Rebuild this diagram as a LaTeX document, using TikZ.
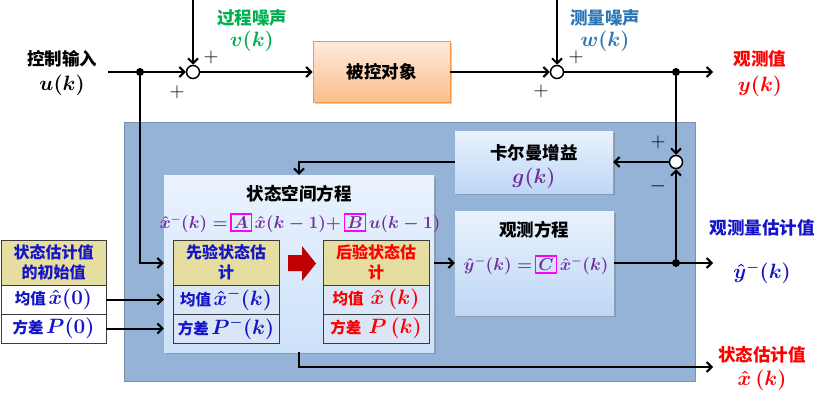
\documentclass[tikz,border=0pt]{standalone}
\usepackage{fontspec}
\setmainfont{Noto Sans CJK SC}
\usepackage{amsmath,bm}
\usetikzlibrary{arrows.meta,shadows}
\definecolor{cgreen}{RGB}{0,176,80}
\definecolor{cblue}{RGB}{46,117,182}
\definecolor{cred}{RGB}{255,0,0}
\definecolor{cpurple}{RGB}{112,48,160}
\definecolor{cdblue}{RGB}{20,20,200}
\definecolor{cmag}{RGB}{255,0,255}
\definecolor{ctan}{RGB}{230,221,160}
\definecolor{crow}{RGB}{218,230,247}
\definecolor{cbig}{RGB}{149,179,215}
\definecolor{cbigb}{RGB}{125,145,175}
\definecolor{cdred}{RGB}{192,0,0}
\definecolor{corange}{RGB}{247,150,70}
\newcommand{\mbx}[1]{{\setlength\fboxsep{2pt}\setlength\fboxrule{1.3pt}\color{cmag}\fbox{\color{cpurple}$#1$}}}
\begin{document}
\begin{tikzpicture}[x=1pt,y=-1pt,
  >={Straight Barb[length=5pt,width=10pt]},
  conn/.style={line width=2pt},
  lbl/.style={font=\fontsize{17.5}{21}\selectfont\bfseries, align=center, inner sep=0pt},
  mth/.style={font=\fontsize{21}{24}\selectfont\boldmath, inner sep=0pt},
  sumj/.style={circle, draw, line width=1.5pt, fill=white, minimum size=13pt, inner sep=0pt},
  dotj/.style={circle, fill=black, minimum size=8pt, inner sep=0pt},
  bluebox/.style={draw=none, top color={rgb,255:red,233;green,242;blue,252}, bottom color={rgb,255:red,190;green,215;blue,246}, drop shadow={shadow xshift=1.5pt, shadow yshift=-1.5pt, opacity=0.35, fill=black!60}},
  cell/.style={draw={rgb,255:red,60;green,60;blue,60}, line width=0.9pt, minimum width=106pt, inner sep=0pt, align=center},
  hdr/.style={cell, fill=ctan, minimum height=45pt, font=\fontsize{16}{20}\selectfont\bfseries},
  row/.style={cell, fill=crow, minimum height=29pt, font=\fontsize{15.5}{18}\selectfont\bfseries},
  wrow/.style={cell, fill=white, minimum height=29pt, font=\fontsize{15.5}{18}\selectfont\bfseries}
]
\useasboundingbox (0,0) rectangle (826,402);

% big blue area
\node[draw=cbigb, line width=1pt, fill=cbig, minimum width=571pt, minimum height=259pt, inner sep=0pt] (big) at (409.5,251.5) {};

% plant
\node[draw=corange, line width=0.9pt, top color={rgb,255:red,253;green,234;blue,222}, bottom color={rgb,255:red,250;green,190;blue,140}, minimum width=137pt, minimum height=61pt, inner sep=0pt, font=\fontsize{17.5}{21}\selectfont\bfseries, drop shadow={shadow xshift=1.5pt, shadow yshift=-1.5pt, opacity=0.3, fill=black!60}] (plant) at (381.5,72) {被控对象};

% Kalman gain box
\node[bluebox, minimum width=158pt, minimum height=62pt, inner sep=0pt] (kal) at (534,162) {};
\node[lbl] (kalt) at (534,153) {卡尔曼增益};
\node[mth, text=cpurple] (kalg) at (534,178) {$g(k)$};

% observation box
\node[bluebox, minimum width=159pt, minimum height=104pt, inner sep=0pt] (obs) at (534.5,263) {};
\node[lbl] (obst) at (534,230) {观测方程};
\node[font=\fontsize{17}{20}\selectfont\boldmath, text=cpurple, inner sep=0pt] (obse) at (536,265) {$\hat{y}^{-}(k)=$\,\mbx{C}\,$\hat{x}^{-}(k)$};

% state space box
\node[bluebox, top color={rgb,255:red,234;green,243;blue,253}, bottom color={rgb,255:red,205;green,225;blue,249}, minimum width=270pt, minimum height=177pt, inner sep=0pt] (state) at (299,263.5) {};
\node[lbl] (statet) at (299,194) {状态空间方程};
\node[font=\fontsize{16}{20}\selectfont\boldmath, text=cpurple, inner sep=0pt] (statee) at (300,223) {$\hat{x}^{-}(k)=$\,\mbx{A}\,$\hat{x}(k-1)+$\,\mbx{B}\,$u(k-1)$};

% prior table
\node[hdr, text=cdblue] (ph) at (226,262.5) {先验状态估\\计};
\node[row, text=cdblue] (p1) at (226,299.5) {均值\,{\fontsize{20}{22}\selectfont\boldmath$\hat{x}^{-}(k)$}};
\node[row, text=cdblue] (p2) at (226,328.5) {方差\,{\fontsize{20}{22}\selectfont\boldmath$P^{-}(k)$}};

% posterior table
\node[hdr, text=cred] (qh) at (376,262.5) {后验状态估\\计};
\node[row, text=cred] (q1) at (376,299.5) {均值\ \ {\fontsize{20}{22}\selectfont\boldmath$\hat{x}\,(k)$}};
\node[row, text=cred] (q2) at (376,328.5) {方差\ \ {\fontsize{20}{22}\selectfont\boldmath$P\,(k)$}};

% initial table
\node[hdr, text=cdblue, minimum width=105pt] (ih) at (53.5,262.5) {状态估计值\\的初始值};
\node[wrow, text=cdblue, minimum width=105pt] (i1) at (53.5,299.5) {均值\,{\fontsize{20}{22}\selectfont\boldmath$\hat{x}(0)$}};
\node[wrow, text=cdblue, minimum width=105pt] (i2) at (53.5,328.5) {方差\,{\fontsize{20}{22}\selectfont\boldmath$P(0)$}};

% red block arrow
\fill[cdred] (288,255) -- (302,255) -- (302,246) -- (316,263.5) -- (302,281) -- (302,271) -- (288,271) -- cycle;

% junctions
\node[sumj] (sum1) at (193,72) {};
\node[sumj] (sum2) at (557,72) {};
\node[sumj] (sum3) at (676,162) {};
\node[dotj] (dot1) at (140,72) {};
\node[dotj] (dot2) at (676,72) {};
\node[dotj] (dot3) at (676,263) {};
\coordinate (in) at (108,72);
\coordinate (out) at (713,72);
\coordinate (n1) at (193,0);
\coordinate (n2) at (557,0);
\coordinate (yout) at (713,263);
\coordinate (xout) at (713,367);

% connectors
\draw[conn,->] (in) -- (sum1);
\draw[conn,->] (n1) -- (sum1);
\draw[conn,->] (sum1) -- (plant);
\draw[conn,->] (plant) -- (sum2);
\draw[conn,->] (n2) -- (sum2);
\draw[conn,->] (sum2) -- (out);
\draw[conn,->] (dot2) -- (sum3);
\draw[conn,->] (dot3) -- (sum3);
\draw[conn,->] (sum3) -- (kal);
\draw[conn,->] (kal.west) -| (state.north);
\draw[conn,->] (dot1) |- (state.west |- dot3);
\draw[conn,->] (i1.east) -- (state.west |- i1.east);
\draw[conn,->] (i2.east) -- (state.west |- i2.east);
\draw[conn,->] (state.east |- obs.west) -- (obs.west);
\draw[conn,->] (obs.east) -- (yout);
\draw[conn,->] (state.south) |- (xout);

% signs
\node[font=\fontsize{20}{22}\selectfont] (ps1) at (211,57) {$+$};
\node[font=\fontsize{20}{22}\selectfont] (ps2) at (177,92) {$+$};
\node[font=\fontsize{20}{22}\selectfont] (ps3) at (576,57) {$+$};
\node[font=\fontsize{20}{22}\selectfont] (ps4) at (541,91) {$+$};
\node[font=\fontsize{20}{22}\selectfont] (ps5) at (658,142) {$+$};
\node[font=\fontsize{20}{22}\selectfont] (ps6) at (658,186) {$-$};

% outside labels
\node[lbl] (cin) at (62,59) {控制输入};
\node[mth] (cinm) at (62,85) {$u(k)$};
\node[lbl, text=cgreen] (pn) at (252,18) {过程噪声};
\node[mth, text=cgreen] (pnm) at (252,41) {$v(k)$};
\node[lbl, text=cblue] (mn) at (605,18) {测量噪声};
\node[mth, text=cblue] (mnm) at (605,41) {$w(k)$};
\node[lbl, text=cred] (ov) at (760,59) {观测值};
\node[mth, text=cred] (ovm) at (760,86) {$y(k)$};
\node[lbl, text=cdblue] (oe) at (762,228) {观测量估计值};
\node[mth, text=cdblue] (oem) at (762,273) {$\hat{y}^{-}(k)$};
\node[lbl, text=cred] (se) at (762,355) {状态估计值};
\node[mth, text=cred] (sem) at (762,380) {$\hat{x}\,(k)$};
\end{tikzpicture}
\end{document}
